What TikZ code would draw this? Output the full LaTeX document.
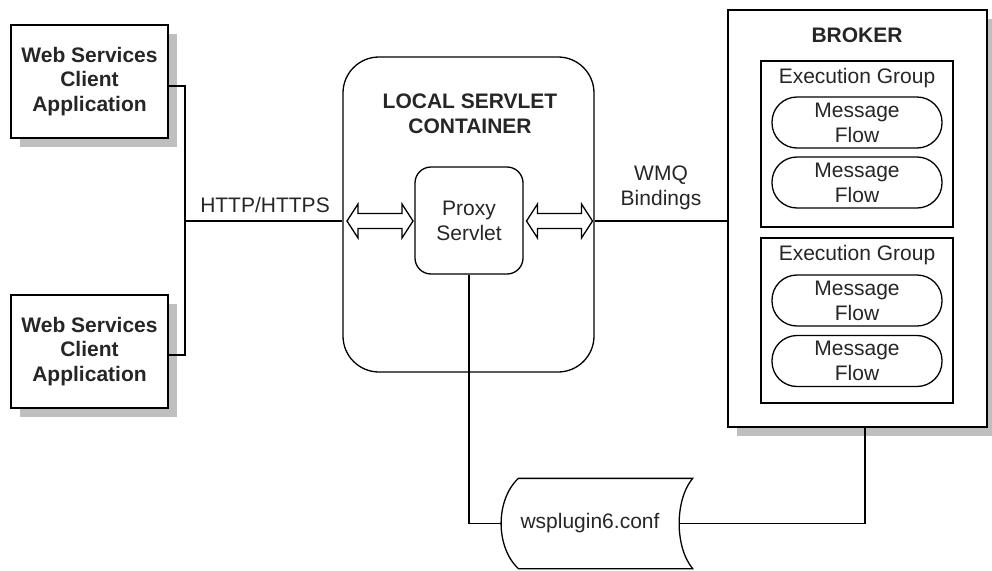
\documentclass[tikz,border=0pt]{standalone}
\usepackage{fontspec}
\setmainfont{Liberation Sans}
\usetikzlibrary{calc,shadows}

\tikzset{
  txt/.style={text=black!85, font=\fontsize{21}{25}\selectfont, align=center},
  bold/.style={txt, font=\fontsize{21}{24.5}\selectfont\bfseries},
  shadowed/.style={drop shadow={shadow xshift=9pt, shadow yshift=-9pt, fill=black!25, opacity=1}},
  clientbox/.style={bold, draw, fill=white, shadowed, minimum width=157pt, minimum height=113pt, inner sep=0pt},
  groupbox/.style={draw, minimum width=192pt, minimum height=166pt, inner sep=0pt},
  flowbox/.style={txt, draw, rounded corners=25pt, minimum width=170pt, minimum height=51pt, inner sep=0pt},
  dblarrow/.pic={
    \draw[fill=white] (-33,0) -- (-22,-17) -- (-22,-7.5) -- (22,-7.5) -- (22,-17)
      -- (33,0) -- (22,17) -- (22,7.5) -- (-22,7.5) -- (-22,17) -- cycle;
  }
}

\begin{document}
\begin{tikzpicture}[x=1pt,y=-1pt,line width=1.3pt]
  \useasboundingbox (0,0) rectangle (992,570);

  % Clients
  \node[clientbox] (client1) at (89.5,81.5) {Web Services\\Client\\Application};
  \node[clientbox] (client2) at (89.5,351.5) {Web Services\\Client\\Application};

  % Local servlet container
  \node[draw, rounded corners=36pt, minimum width=251pt, minimum height=315pt] (container) at (468.5,214.5) {};
  \node[bold] (containerlbl) at (470,114) {LOCAL SERVLET\\CONTAINER};
  \node[txt, draw, rounded corners=16pt, minimum width=108pt, minimum height=107pt, inner sep=0pt] (proxy) at (469,220.5) {Proxy\\Servlet};

  % Broker
  \node[draw, fill=white, shadowed, minimum width=259pt, minimum height=417pt] (broker) at (857.5,218.5) {};
  \node[bold] (brokerlbl) at (857,35) {BROKER};
  \node[groupbox] (group1) at (857,144) {};
  \node[groupbox, minimum height=165pt] (group2) at (857,320.5) {};
  \node[txt, below=4pt] (group1lbl) at (group1.north) {Execution Group};
  \node[txt, below=4pt] (group2lbl) at (group2.north) {Execution Group};
  \node[flowbox] (flow1) at (857,122.5) {Message\\Flow};
  \node[flowbox] (flow2) at (857,182.5) {Message\\Flow};
  \node[flowbox] (flow3) at (857,300.5) {Message\\Flow};
  \node[flowbox] (flow4) at (857,361) {Message\\Flow};

  % Config file (stored data)
  \node[txt, minimum width=176pt, minimum height=89pt, inner sep=0pt] (conf) at (590,523.5) {wsplugin6.conf};
  \draw ($(conf.north west)+(17,0)$) -- ($(conf.north east)+(14,0)$)
    .. controls ($(conf.east)+(-4,-23.5)$) and ($(conf.east)+(-4,23.5)$) .. ($(conf.south east)+(14,0)$)
    -- ($(conf.south west)+(17,0)$)
    .. controls ($(conf.west)+(-6,23.5)$) and ($(conf.west)+(-6,-23.5)$) .. cycle;

  % Connections
  \coordinate (hub) at (185,221);
  \draw ([yshift=-4.5pt]client1.east) -| (hub) |- ([yshift=-3.5pt]client2.east);
  \draw (hub) -- (container.west |- hub);
  \node[txt] (http) at (265,205) {HTTP/HTTPS};
  \draw (container.east |- hub) -- (broker.west |- hub);
  \node[txt] (wmq) at (661,188) {WMQ\\Bindings};
  \pic (arrowL) at (380,221) {dblarrow};
  \pic (arrowR) at (559.5,221) {dblarrow};

  \draw (proxy.south) |- (conf.west);
  \draw ([xshift=7.5pt]broker.south) |- (conf.east);
\end{tikzpicture}
\end{document}
